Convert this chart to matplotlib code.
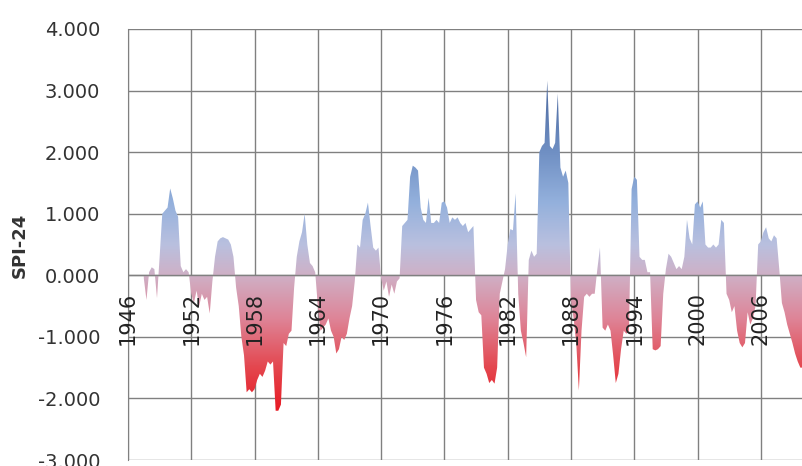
import numpy as np
import matplotlib
matplotlib.use('Agg')
import matplotlib.pyplot as plt
from matplotlib.colors import LinearSegmentedColormap, Normalize

# SPI-24, quarterly samples starting 1947.5
START_YEAR = 1947.5
STEP = 0.25

spi_1940s = [-0.05, -0.4,
             0.05, 0.13, 0.1, -0.37,
             0.3, 1.0, 1.05, 1.1]
spi_1950s = [1.41, 1.25, 1.05, 0.95,
             0.15, 0.05, 0.1, 0.05,
             -0.3, -0.45, -0.25, -0.5,
             -0.3, -0.4, -0.35, -0.62,
             -0.1, 0.3, 0.55, 0.6,
             0.62, 0.6, 0.58, 0.5,
             0.3, -0.2, -0.5, -1.0,
             -1.3, -1.9, -1.85, -1.9,
             -1.85, -1.7, -1.6, -1.65,
             -1.55, -1.4, -1.45, -1.4]
spi_1960s = [-2.2, -2.2, -2.1, -1.1,
             -1.15, -0.95, -0.9, -0.2,
             0.3, 0.55, 0.7, 1.0,
             0.5, 0.2, 0.15, 0.05,
             -0.5, -0.9, -0.85, -0.8,
             -0.7, -0.9, -1.0, -1.27,
             -1.2, -1.0, -1.05, -0.95,
             -0.7, -0.5, -0.1, 0.5,
             0.45, 0.9, 1.0, 1.18,
             0.8, 0.45, 0.4, 0.45]
spi_1970s = [-0.05, -0.25, -0.1, -0.35,
             -0.15, -0.3, -0.1, -0.05,
             0.8, 0.85, 0.9, 1.6,
             1.78, 1.75, 1.7, 1.1,
             0.9, 0.85, 1.26, 0.85,
             0.85, 0.9, 0.85, 1.18,
             1.2, 1.1, 0.85, 0.94,
             0.9, 0.94, 0.85, 0.8,
             0.85, 0.7, 0.75, 0.8,
             -0.4, -0.6, -0.65, -1.5]
spi_1980s = [-1.6, -1.75, -1.7, -1.76,
             -1.5, -0.3, -0.1, 0.1,
             0.5, 0.75, 0.73, 1.33,
             -0.3, -0.9, -1.1, -1.33,
             0.25, 0.4, 0.3, 0.35,
             2.0, 2.1, 2.15, 3.16,
             2.1, 2.05, 2.15, 2.95,
             1.75, 1.6, 1.7, 1.5,
             -0.4, -0.7, -1.1, -1.87,
             -0.9, -0.35, -0.3, -0.35]
spi_1990s = [-0.3, -0.3, 0.1, 0.45,
             -0.85, -0.9, -0.8, -0.9,
             -1.3, -1.75, -1.6, -1.2,
             -0.9, -0.95, -0.9, 1.4,
             1.6, 1.55, 0.3, 0.25,
             0.25, 0.05, 0.05, -1.2,
             -1.22, -1.2, -1.15, -0.3,
             0.1, 0.35, 0.3, 0.2,
             0.1, 0.15, 0.1, 0.3,
             0.9, 0.6, 0.5, 1.15]
spi_2000s = [1.2, 1.1, 1.2, 0.5,
             0.45, 0.45, 0.5, 0.45,
             0.5, 0.9, 0.85, -0.3,
             -0.4, -0.6, -0.5, -0.9,
             -1.1, -1.17, -1.1, -0.6,
             -0.8, -0.7, -0.5, 0.5,
             0.55, 0.7, 0.78, 0.6,
             0.55, 0.65, 0.6, 0.1,
             -0.45, -0.6, -0.8, -0.95,
             -1.1, -1.27, -1.4, -1.5,
             -1.5]

year_ticks = list(range(1946, 2007, 6))
y_ticks = [-3, -2, -1, 0, 1, 2, 3, 4]

spi = np.array(spi_1940s + spi_1950s + spi_1960s + spi_1970s
               + spi_1980s + spi_1990s + spi_2000s)
t = START_YEAR + STEP * np.arange(len(spi))

# colour by value: red for drought, blue for wet, lavender around zero
VMIN, VMAX = -2.3, 3.3
stops = [(-2.3, '#e8141e'), (-1.5, '#e4474f'), (-0.7, '#de8598'),
         (0.0, '#cfb0c6'), (0.5, '#b9c0df'), (1.2, '#93b0dc'),
         (2.0, '#7090c4'), (3.3, '#48649a')]
cmap = LinearSegmentedColormap.from_list(
    'spi', [((v - VMIN) / (VMAX - VMIN), c) for v, c in stops])

fig = plt.figure(figsize=(8.03, 4.66), dpi=100)
ax = fig.add_axes([128 / 803, 6 / 466, 675 / 803, 431 / 466])
ax.set_xlim(1946, 2010)
ax.set_ylim(-3, 4)

grid_c = '#808080'
for yr in year_ticks:
    ax.axvline(yr, color=grid_c, lw=1.0, zorder=1)
for v in y_ticks:
    ax.axhline(v, color=grid_c, lw=1.0, zorder=1)

area = ax.fill_between(t, spi, 0, facecolor='none', edgecolor='none')
grad = np.linspace(-3, 4, 600).reshape(-1, 1)
im = ax.imshow(grad, extent=[1946, 2010, -3, 4], origin='lower',
               aspect='auto', cmap=cmap, norm=Normalize(VMIN, VMAX),
               interpolation='bilinear', zorder=2)
im.set_clip_path(area.get_paths()[0], transform=ax.transData)

ax.axhline(0, color=grid_c, lw=1.0, zorder=3)

for yr in year_ticks:
    ax.annotate(str(yr), (yr, 0), xytext=(0, -12), textcoords='offset points',
                rotation=90, ha='center', va='top', fontsize=15,
                color='#222222', zorder=4)

ax.set_xticks([])
ax.set_yticks(y_ticks)
ax.set_yticklabels([f'{v:.3f}' for v in y_ticks], fontsize=14, color='#333333')
ax.tick_params(axis='y', length=0, pad=20)
for side in ['top', 'right', 'bottom']:
    ax.spines[side].set_visible(False)
ax.spines['left'].set_color(grid_c)

fig.text(20 / 803, 1 - 245 / 466, 'SPI-24', rotation=90, ha='center',
         va='center', fontsize=13, fontweight='bold', color='#333333')

fig.savefig('out.png', dpi=100)
